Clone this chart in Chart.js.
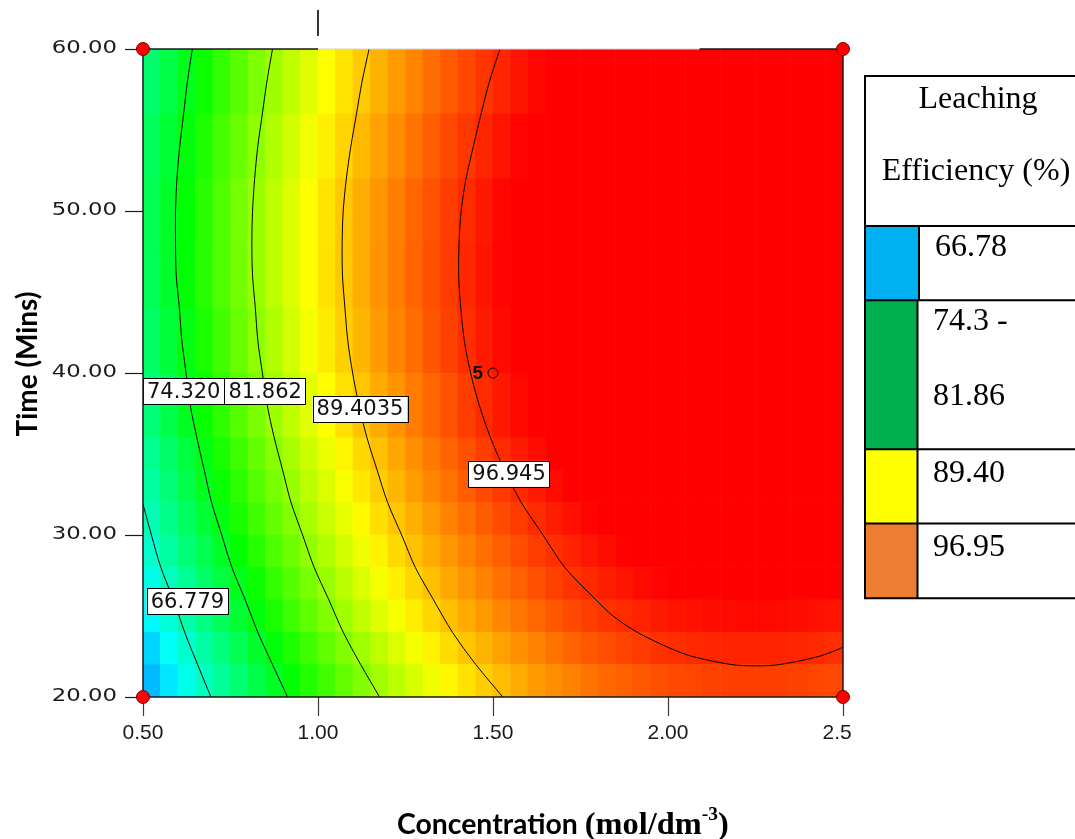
<!DOCTYPE html>
<html>
<head>
<meta charset="utf-8">
<script src="https://cdn.jsdelivr.net/npm/chart.js@4.4.1/dist/chart.umd.min.js"></script>
<style>
html,body{margin:0;padding:0;background:#ffffff;overflow:hidden;}
canvas{display:block;}
</style>
</head>
<body>
<canvas id="chart" width="1075" height="839"></canvas>
<script>
// ================= DATA =================
// Cell centres along concentration (mol/dm-3)
const concentration = [0.525,0.575,0.625,0.675,0.725,0.775,0.825,0.875,0.925,0.975,
  1.025,1.075,1.125,1.175,1.225,1.275,1.325,1.375,1.425,1.475,
  1.525,1.575,1.625,1.675,1.725,1.775,1.825,1.875,1.925,1.975,
  2.025,2.075,2.125,2.175,2.225,2.275,2.325,2.375,2.425,2.475];
// Time bands (mins) of the cell rows
const timeBands = [[20,22],[22,24],[24,26],[26,28],[28,30],[30,32],[32,34],[34,36],[36,40],[40,44],[44,48],[48,52],[52,56],[56,60]];
// Leaching efficiency (%) estimated for each cell, one array per time band
const eff_20_22 = [60.9,62.9,64.9,66.8,68.6,70.4,72.1,73.8,75.4,77.0,78.4,79.9,81.2,82.6,83.8,85.0,86.1,87.2,88.2,89.2,90.1,90.9,91.7,92.4,93.0,93.6,94.2,94.6,95.0,95.4,95.7,95.9,96.1,96.2,96.3,96.3,96.2,96.1,95.9,95.7];
const eff_22_24 = [62.2,64.3,66.2,68.1,70.0,71.8,73.5,75.2,76.8,78.3,79.8,81.2,82.6,83.9,85.2,86.3,87.5,88.5,89.6,90.5,91.4,92.2,93.0,93.7,94.4,95.0,95.5,96.0,96.4,96.8,97.1,97.3,97.5,97.6,97.6,97.6,97.6,97.5,97.3,97.1];
const eff_24_26 = [63.8,65.8,67.7,69.6,71.5,73.2,74.9,76.6,78.2,79.7,81.2,82.6,84.0,85.3,86.5,87.7,88.8,89.9,90.9,91.8,92.7,93.5,94.3,95.0,95.7,96.2,96.8,97.2,97.7,98.0,98.3,98.5,98.7,98.8,98.9,98.9,98.8,98.7,98.5,98.3];
const eff_26_28 = [64.9,66.9,68.8,70.7,72.6,74.3,76.0,77.7,79.3,80.8,82.3,83.7,85.1,86.4,87.6,88.8,89.9,91.0,92.0,92.9,93.8,94.6,95.4,96.1,96.8,97.3,97.9,98.3,98.8,99.1,99.4,99.6,99.8,99.9,100.0,100.0,99.9,99.8,99.6,99.4];
const eff_28_30 = [66.3,68.3,70.2,72.0,73.8,75.6,77.2,78.9,80.4,81.9,83.4,84.8,86.1,87.4,88.6,89.8,90.9,91.9,92.9,93.8,94.7,95.5,96.3,97.0,97.6,98.2,98.7,99.2,99.6,99.9,100.2,100.4,100.6,100.7,100.8,100.8,100.7,100.6,100.4,100.2];
const eff_30_32 = [67.3,69.3,71.2,73.1,74.8,76.6,78.3,79.9,81.4,82.9,84.4,85.8,87.1,88.4,89.6,90.7,91.8,92.9,93.8,94.8,95.6,96.4,97.2,97.9,98.5,99.1,99.6,100.1,100.5,100.8,101.1,101.4,101.5,101.6,101.7,101.7,101.6,101.5,101.4,101.1];
const eff_32_34 = [68.3,70.2,72.1,74.0,75.8,77.5,79.2,80.8,82.3,83.8,85.2,86.6,88.0,89.2,90.4,91.6,92.7,93.7,94.7,95.6,96.5,97.3,98.0,98.7,99.3,99.9,100.4,100.9,101.3,101.6,101.9,102.2,102.3,102.4,102.5,102.5,102.4,102.3,102.2,101.9];
const eff_34_36 = [69.0,70.9,72.8,74.7,76.5,78.2,79.9,81.5,83.0,84.5,85.9,87.3,88.7,89.9,91.1,92.3,93.4,94.4,95.4,96.3,97.2,98.0,98.7,99.4,100.0,100.6,101.1,101.6,102.0,102.3,102.6,102.9,103.0,103.1,103.2,103.2,103.1,103.0,102.9,102.6];
const eff_36_40 = [70.1,72.1,74.0,75.8,77.5,79.3,80.9,82.5,84.0,85.5,86.9,88.3,89.6,90.9,92.1,93.2,94.3,95.3,96.3,97.2,98.1,98.9,99.6,100.3,100.9,101.5,102.0,102.5,102.9,103.2,103.5,103.7,103.9,104.0,104.0,104.0,104.0,103.9,103.7,103.5];
const eff_40_44 = [71.0,73.0,74.8,76.6,78.4,80.1,81.8,83.3,84.9,86.3,87.8,89.1,90.4,91.7,92.9,94.0,95.1,96.1,97.1,98.0,98.8,99.6,100.4,101.0,101.7,102.2,102.8,103.2,103.6,103.9,104.2,104.5,104.6,104.7,104.8,104.8,104.7,104.6,104.5,104.2];
const eff_44_48 = [71.7,73.6,75.4,77.2,79.0,80.6,82.3,83.8,85.3,86.8,88.2,89.5,90.8,92.1,93.2,94.4,95.4,96.4,97.4,98.3,99.1,99.9,100.6,101.3,101.9,102.5,103.0,103.4,103.8,104.2,104.4,104.7,104.8,104.9,105.0,105.0,104.9,104.8,104.7,104.4];
const eff_48_52 = [71.8,73.7,75.5,77.3,79.0,80.7,82.3,83.8,85.3,86.8,88.1,89.5,90.8,92.0,93.1,94.3,95.3,96.3,97.2,98.1,99.0,99.7,100.5,101.1,101.7,102.3,102.8,103.2,103.6,104.0,104.2,104.5,104.6,104.7,104.8,104.8,104.7,104.6,104.5,104.2];
const eff_52_56 = [71.4,73.2,75.1,76.8,78.5,80.2,81.8,83.3,84.8,86.2,87.6,88.9,90.2,91.4,92.5,93.6,94.7,95.7,96.6,97.5,98.3,99.1,99.8,100.5,101.1,101.6,102.1,102.6,102.9,103.3,103.5,103.8,103.9,104.0,104.1,104.1,104.0,103.9,103.8,103.5];
const eff_56_60 = [70.6,72.4,74.3,76.0,77.7,79.4,81.0,82.5,84.0,85.4,86.8,88.1,89.4,90.6,91.7,92.8,93.9,94.9,95.8,96.7,97.5,98.3,99.0,99.7,100.3,100.8,101.3,101.8,102.1,102.5,102.7,103.0,103.1,103.2,103.3,103.3,103.2,103.1,103.0,102.7];

// Contour lines (concentration, time)
const contour_66_779 = [{x:0.694,y:20},{x:0.656,y:22},{x:0.619,y:24},{x:0.587,y:26},{x:0.551,y:28},{x:0.524,y:30},{x:0.500,y:31.9}];
const contour_74_320 = [{x:0.641,y:60},{x:0.627,y:58},{x:0.616,y:56},{x:0.605,y:54},{x:0.597,y:52},{x:0.593,y:50},{x:0.593,y:48},{x:0.595,y:46},{x:0.604,y:44},{x:0.611,y:42},{x:0.623,y:40},{x:0.635,y:38},{x:0.654,y:36},{x:0.675,y:34},{x:0.696,y:32},{x:0.725,y:30},{x:0.754,y:28},{x:0.792,y:26},{x:0.828,y:24},{x:0.870,y:22},{x:0.913,y:20}];
const contour_81_862 = [{x:0.870,y:60},{x:0.854,y:58},{x:0.841,y:56},{x:0.828,y:54},{x:0.819,y:52},{x:0.813,y:50},{x:0.811,y:48},{x:0.813,y:46},{x:0.821,y:44},{x:0.828,y:42},{x:0.841,y:40},{x:0.855,y:38},{x:0.875,y:36},{x:0.899,y:34},{x:0.923,y:32},{x:0.956,y:30},{x:0.989,y:28},{x:1.031,y:26},{x:1.072,y:24},{x:1.122,y:22},{x:1.176,y:20}];
const contour_89_4035 = [{x:1.146,y:60},{x:1.126,y:58},{x:1.110,y:56},{x:1.094,y:54},{x:1.081,y:52},{x:1.072,y:50},{x:1.069,y:48},{x:1.070,y:46},{x:1.077,y:44},{x:1.085,y:42},{x:1.099,y:40},{x:1.117,y:38},{x:1.140,y:36},{x:1.169,y:34},{x:1.199,y:32},{x:1.239,y:30},{x:1.278,y:28},{x:1.330,y:26},{x:1.384,y:24},{x:1.451,y:22},{x:1.528,y:20}];
const contour_96_945 = [{x:1.520,y:60},{x:1.490,y:58},{x:1.466,y:56},{x:1.444,y:54},{x:1.423,y:52},{x:1.409,y:50},{x:1.403,y:48},{x:1.402,y:46},{x:1.408,y:44},{x:1.418,y:42},{x:1.436,y:40},{x:1.461,y:38},{x:1.493,y:36},{x:1.533,y:34},{x:1.581,y:32},{x:1.643,y:30},{x:1.705,y:28},{x:1.794,y:26},{x:1.843,y:25},{x:1.912,y:24},{x:2.007,y:23},{x:2.070,y:22.5},{x:2.182,y:22},{x:2.250,y:21.92},{x:2.318,y:22},{x:2.430,y:22.5},{x:2.493,y:23},{x:2.500,y:23.1}];
const contourLabels = ['74.320','81.862','89.4035','96.945','66.779'];
const contourLabelX = [0.613,0.849,1.120,1.546,0.627];
const contourLabelY = [38.86,38.86,37.78,33.77,25.9];

// Design points
const designPoints = [{x:0.5,y:20},{x:0.5,y:60},{x:2.5,y:20},{x:2.5,y:60}];
const centerPoint = [{x:1.5,y:40}];
const centerRuns = '5';

// Axes
const xTicks = [0.5,1.0,1.5,2.0,2.5];
const xTickLabels = ['0.50','1.00','1.50','2.00','2.5  '];
const yTicks = [20,30,40,50,60];
const yTickLabels = ['20.00','30.00','40.00','50.00','60.00'];
const xTitleMain = 'Concentration ';
const xTitleUnit = '(mol/dm';
const xTitleSup = '-3';
const xTitleClose = ')';
const yTitle = 'Time (Mins)';

// Legend table
const legendHeader = ['Leaching','Efficiency (%)'];
const legendLabels = [['66.78'],['74.3 -','81.86'],['89.40'],['96.95']];

// ================= STYLES =================
const legendColors = ['#00B0F0','#00B050','#FFFF00','#ED7D31'];
const colorStops = [[52.5,0,0,255],[64,0,255,255],[75.5,0,255,0],[86.8,255,255,0],[99.3,255,0,0]];
function heatColor(v){
  if (v <= colorStops[0][0]) { const s=colorStops[0]; return `rgb(${s[1]},${s[2]},${s[3]})`; }
  for (let i=0;i<colorStops.length-1;i++){
    const a=colorStops[i], b=colorStops[i+1];
    if (v <= b[0]) {
      const t=(v-a[0])/(b[0]-a[0]);
      const r=Math.round(a[1]+(b[1]-a[1])*t), g=Math.round(a[2]+(b[2]-a[2])*t), bl=Math.round(a[3]+(b[3]-a[3])*t);
      return `rgb(${r},${g},${bl})`;
    }
  }
  const s=colorStops[colorStops.length-1]; return `rgb(${s[1]},${s[2]},${s[3]})`;
}

const efficiencyRows = [eff_20_22,eff_22_24,eff_24_26,eff_26_28,eff_28_30,eff_30_32,eff_32_34,eff_34_36,
                        eff_36_40,eff_40_44,eff_44_48,eff_48_52,eff_52_56,eff_56_60];

const cellDatasets = timeBands.map((band, r) => ({
  type: 'bar',
  data: concentration.map(c => ({x: c, y: band})),
  backgroundColor: efficiencyRows[r].map(heatColor),
  borderWidth: 0,
  grouped: false,
  categoryPercentage: 1,
  barPercentage: 1,
  order: 10
}));

const contourSets = [contour_66_779, contour_74_320, contour_81_862, contour_89_4035, contour_96_945];
const contourDatasets = contourSets.map(pts => ({
  type: 'line',
  data: pts,
  borderColor: '#000000',
  borderWidth: 1,
  pointRadius: 0,
  tension: 0.3,
  fill: false,
  order: 2
}));

const pointDatasets = [
  { type:'scatter', data: designPoints, pointRadius: 6.5, pointBackgroundColor:'#ff0000', pointBorderColor:'#7a0000', pointBorderWidth:1, clip:false, order:0 },
  { type:'scatter', data: centerPoint, pointRadius: 5, pointBackgroundColor:'rgba(0,0,0,0)', pointBorderColor:'#000000', pointBorderWidth:1, clip:false, order:0 }
];

function fitSize(ctx, text, weight, family, target){
  ctx.font = `${weight} 100px ${family}`;
  return 100 * target / ctx.measureText(text).width;
}

function drawFrame(chart){
  const ctx = chart.ctx, xs = chart.scales.x, ys = chart.scales.y;
  const L = xs.getPixelForValue(0.5), R = xs.getPixelForValue(2.5);
  const T = ys.getPixelForValue(60), B = ys.getPixelForValue(20);
  ctx.save();
  ctx.lineCap = 'butt';
  ctx.strokeStyle = '#1a1a1a'; ctx.lineWidth = 1.5;
  ctx.beginPath();
  ctx.moveTo(L, T); ctx.lineTo(L, B); ctx.lineTo(R, B); ctx.lineTo(R, T);
  ctx.stroke();
  const xA = xs.getPixelForValue(1.0), xB = xs.getPixelForValue(2.09);
  ctx.beginPath(); ctx.moveTo(L, T); ctx.lineTo(xA, T); ctx.moveTo(xB, T); ctx.lineTo(R, T); ctx.stroke();
  ctx.strokeStyle = '#d4d4d4'; ctx.lineWidth = 1.2;
  ctx.beginPath(); ctx.moveTo(xA, T); ctx.lineTo(xB, T); ctx.stroke();
  ctx.strokeStyle = '#333333'; ctx.lineWidth = 2;
  ctx.beginPath(); ctx.moveTo(xA, T - 39); ctx.lineTo(xA, T - 13); ctx.stroke();
  ctx.restore();
}

const overlayPlugin = {
  id: 'overlay',
  beforeDraw(chart){ chart.$frameDone = false; },
  afterLayout(chart){
    const sc = chart.scales.y;
    if (sc && !sc.$wide) {
      const orig = sc.drawLabels;
      sc.drawLabels = function(area){
        const c = this.ctx;
        const xr = this.right - this.options.grid.tickLength - this.options.ticks.padding;
        c.save(); c.translate(xr, 0); c.scale(1.34, 1); c.translate(-xr, 0);
        orig.call(this, area);
        c.restore();
      };
      sc.$wide = true;
    }
  },
  beforeDatasetDraw(chart, args){
    if (args.meta.type === 'scatter' && !chart.$frameDone) {
      drawContourLabels(chart);
      drawFrame(chart);
      chart.$frameDone = true;
    }
  },
  afterDatasetsDraw(chart){
    const ctx = chart.ctx, xs = chart.scales.x, ys = chart.scales.y;
    ctx.save();
    ctx.font = 'bold 19px "Liberation Sans"';
    ctx.fillStyle = '#111';
    ctx.textAlign = 'right'; ctx.textBaseline = 'middle';
    ctx.fillText(centerRuns, xs.getPixelForValue(centerPoint[0].x) - 10, ys.getPixelForValue(centerPoint[0].y) + 1);
    ctx.restore();
  },
  afterDraw(chart){
    const ctx = chart.ctx;
    ctx.save();
    ctx.fillStyle = '#000';
    ctx.textBaseline = 'alphabetic';
    const s1 = fitSize(ctx, 'Concentration', 'bold', 'Lato', 181);
    ctx.font = `bold ${s1}px Lato`;
    ctx.textAlign = 'left';
    let x = 397; const base = 834;
    ctx.fillText(xTitleMain, x, base);
    x += ctx.measureText(xTitleMain).width;
    x = Math.max(x, 583);
    const s2 = fitSize(ctx, xTitleUnit, 'bold', '"Liberation Serif"', 117);
    ctx.font = `bold ${s2}px "Liberation Serif"`;
    ctx.fillText(xTitleUnit, x, base);
    x += ctx.measureText(xTitleUnit).width;
    ctx.font = `bold ${s2*0.6}px "Liberation Serif"`;
    ctx.fillText(xTitleSup, x, base - s2*0.42);
    x += ctx.measureText(xTitleSup).width;
    ctx.font = `bold ${s2}px "Liberation Serif"`;
    ctx.fillText(xTitleClose, x, base);
    const s3 = fitSize(ctx, yTitle, 'bold', 'Lato', 145);
    ctx.font = `bold ${s3}px Lato`;
    ctx.translate(37, 364);
    ctx.rotate(-Math.PI/2);
    ctx.textAlign = 'center';
    ctx.fillText(yTitle, 0, 0);
    ctx.restore();
    drawLegend(ctx);
  }
};

function drawContourLabels(chart){
  const ctx = chart.ctx, xs = chart.scales.x, ys = chart.scales.y;
  ctx.save();
  ctx.font = '21px "DejaVu Sans"';
  ctx.textBaseline = 'middle';
  ctx.textAlign = 'center';
  contourLabels.forEach((t, i) => {
    const px = xs.getPixelForValue(contourLabelX[i]);
    const py = ys.getPixelForValue(contourLabelY[i]);
    const w = ctx.measureText(t).width + 8, h = 26;
    const bx = Math.max(xs.left, px - w/2);
    ctx.fillStyle = '#ffffff';
    ctx.fillRect(bx, py - h/2, w, h);
    ctx.strokeStyle = '#000'; ctx.lineWidth = 1;
    ctx.strokeRect(Math.round(bx)+0.5, Math.round(py - h/2)+0.5, Math.round(w), h);
    ctx.fillStyle = '#111';
    ctx.fillText(t, bx + w/2, py + 1);
  });
  ctx.restore();
}

function drawLegend(ctx){
  const left = 865, right = 1078, top = 76;
  const rowLines = [225.9, 300.3, 449.3, 523.4, 598.3];
  const swRight = [919, 917.5, 917.5, 917.5];
  ctx.save();
  ctx.fillStyle = '#fff';
  ctx.fillRect(left, top, right-left, rowLines[4]-top);
  for (let i=0;i<4;i++){
    ctx.fillStyle = legendColors[i];
    ctx.fillRect(left, rowLines[i], swRight[i]-left, rowLines[i+1]-rowLines[i]);
  }
  ctx.strokeStyle = '#000'; ctx.lineWidth = 2;
  ctx.beginPath();
  ctx.moveTo(right, top); ctx.lineTo(left, top); ctx.lineTo(left, rowLines[4]); ctx.lineTo(right, rowLines[4]);
  rowLines.slice(0,4).forEach(y => { ctx.moveTo(left, y); ctx.lineTo(right, y); });
  for (let i=0;i<4;i++){ ctx.moveTo(swRight[i], rowLines[i]); ctx.lineTo(swRight[i], rowLines[i+1]); }
  ctx.stroke();
  ctx.fillStyle = '#000';
  ctx.font = '32px "Liberation Serif"';
  ctx.textBaseline = 'alphabetic';
  ctx.textAlign = 'center';
  ctx.fillText(legendHeader[0], 978, 108);
  ctx.fillText(legendHeader[1], 976, 180);
  ctx.textAlign = 'left';
  const baselines = [[256],[330,404.5],[482],[556]];
  legendLabels.forEach((lines, i) => {
    lines.forEach((t, j) => ctx.fillText(t, i === 0 ? 935 : 933, baselines[i][j]));
  });
  ctx.restore();
}

new Chart(document.getElementById('chart'), {
  type: 'bar',
  data: { datasets: [...cellDatasets, ...contourDatasets, ...pointDatasets] },
  options: {
    responsive: false,
    animation: false,
    devicePixelRatio: 1,
    events: [],
    layout: { padding: { top: 49, right: 232, bottom: 0, left: 0 } },
    plugins: { legend: { display: false }, tooltip: { enabled: false }, title: { display: false } },
    scales: {
      x: {
        type: 'linear', min: 0.5, max: 2.5, offset: false,
        afterBuildTicks: s => { s.ticks = xTicks.map(v => ({ value: v })); },
        afterFit: s => { s.height = 142; },
        ticks: { callback: (v, i) => xTickLabels[i], autoSkip: false, maxRotation: 0, minRotation: 0,
                 font: { family: '"Liberation Sans"', size: 21 }, color: '#1a1a1a', padding: 5 },
        grid: { drawOnChartArea: false, drawTicks: true, tickLength: 19, tickColor: '#3a3a3a', tickWidth: 1.2, offset: false },
        border: { display: false }
      },
      y: {
        type: 'linear', min: 20, max: 60,
        afterBuildTicks: s => { s.ticks = yTicks.map(v => ({ value: v })); },
        afterFit: s => { s.width = 143; },
        ticks: { callback: (v, i) => yTickLabels[i], autoSkip: false,
                 font: { family: '"DejaVu Sans"', size: 17 }, color: '#1a1a1a', padding: 8 },
        grid: { drawOnChartArea: false, drawTicks: true, tickLength: 18, tickColor: '#1a1a1a', tickWidth: 1.2 },
        border: { display: false }
      }
    }
  },
  plugins: [overlayPlugin]
});
</script>
</body>
</html>
